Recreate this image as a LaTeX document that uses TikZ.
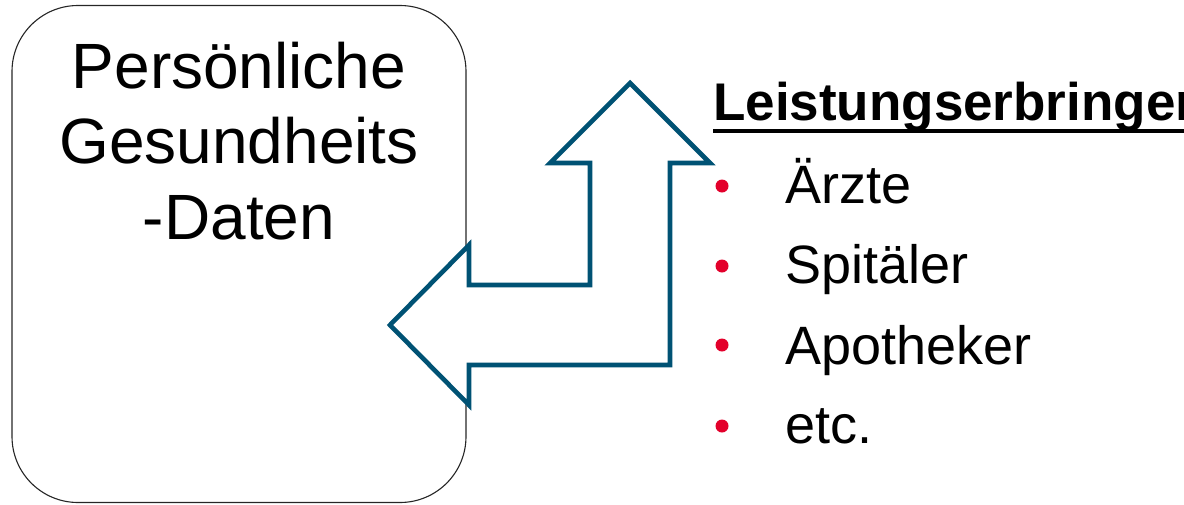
\documentclass[tikz,border=0pt]{standalone}
\usepackage{fontspec}
\setmainfont{Liberation Sans}
\definecolor{arrowblue}{HTML}{005274}
\definecolor{bulletred}{HTML}{E3002B}
\tikzset{
  databox/.style={draw=black!85, line width=1.1pt, rounded corners=66pt, inner sep=0pt},
  bigtext/.style={font=\fontsize{64}{75}\selectfont, inner sep=0pt, anchor=base},
  itemtext/.style={font=\fontsize{54}{60}\selectfont, inner sep=0pt, anchor=base west},
  titletext/.style={font=\fontsize{53}{58}\selectfont\bfseries, inner sep=0pt, anchor=base west},
  bulletdot/.style={circle, fill=bulletred, inner sep=0pt, minimum size=13pt},
  bigarrow/.style={draw=arrowblue, fill=white, line width=4.6pt, miter limit=10}
}
\begin{document}
\begin{tikzpicture}[x=1pt,y=-1pt]
\useasboundingbox (0,0) rectangle (1184,504);
% data box
\node[databox, minimum width=454pt, minimum height=497pt] (box) at (239,254) {};
% double-bent arrow
\draw[bigarrow] (630,83) -- (710,163) -- (670,163) -- (670,365) -- (469,365)
  -- (469,405) -- (390,325) -- (469,245) -- (469,285) -- (590,285)
  -- (590,163) -- (550,163) -- cycle;
% box text
\node[bigtext] (l1) at (239,88) {Persönliche};
\node[bigtext] (l2) at (239,163) {Gesundheits};
\node[bigtext] (l3) at (239,239) {-Daten};
% title
\node[titletext] (title) at (713,120) {Leistungserbringer};
\draw[line width=3.8pt] ([yshift=-11pt]title.base west) -- ([yshift=-11pt]title.base east);
% items
\node[itemtext] (i1) at (785,203) {Ärzte};
\node[itemtext] (i2) at (785,283) {Spitäler};
\node[itemtext] (i3) at (785,364) {Apotheker};
\node[itemtext] (i4) at (785,443) {etc.};
\node[bulletdot] (b1) at (722,186) {};
\node[bulletdot] (b2) at (722,266) {};
\node[bulletdot] (b3) at (722,345) {};
\node[bulletdot] (b4) at (722,426) {};
\end{tikzpicture}
\end{document}
